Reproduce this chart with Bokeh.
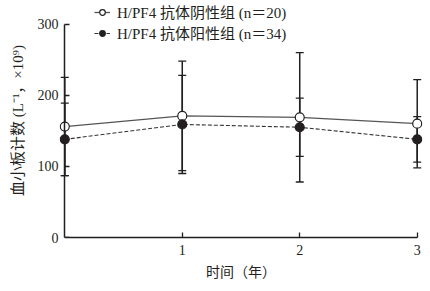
from bokeh.plotting import figure
from bokeh.models import (Range1d, Whisker, ColumnDataSource, Legend, LegendItem,
                          FixedTicker, TeeHead, LinearAxis)
from bokeh.embed import file_html
from bokeh.resources import INLINE

# ---- data ----
years = [0, 1, 2, 3]
neg_mean = [156, 171, 169, 160]
neg_sd = [69, 77, 91, 62]
pos_mean = [138, 159, 155, 138]
pos_sd = [51, 69, 41, 32]
x_ticks = [1, 2, 3]
y_ticks = [0, 100, 200, 300]
neg_label = "H/PF4 抗体阴性组 (n＝20)"
pos_label = "H/PF4 抗体阳性组 (n＝34)"
x_title = "时间（年）"
y_title = "血小板计数 (L⁻¹，×10⁹)"

INK = "#231f20"
SERIF = "Liberation Serif, Noto Sans CJK SC"

p = figure(width=430, height=291, output_backend="svg", toolbar_location=None,
           x_range=Range1d(-0.045, 3.045), y_range=Range1d(0, 329),
           min_border_left=59, min_border_right=8, min_border_top=3, min_border_bottom=54)
p.outline_line_color = None
p.grid.visible = False


def style(ax):
    ax.axis_line_color = INK
    ax.axis_line_width = 1.5
    ax.major_tick_line_color = INK
    ax.major_tick_line_width = 1.3
    ax.major_tick_in = 5
    ax.major_tick_out = 0
    ax.minor_tick_line_color = None
    ax.major_label_text_font = SERIF
    ax.major_label_text_font_size = "14px"
    ax.major_label_text_color = INK
    ax.axis_label_text_font = SERIF
    ax.axis_label_text_font_size = "14px"
    ax.axis_label_text_font_style = "normal"
    ax.axis_label_text_color = INK


# x axis
xa = p.xaxis[0]
style(xa)
xa.bounds = (0, 3)
xa.ticker = FixedTicker(ticks=x_ticks)
xa.major_label_standoff = 7
xa.axis_label = x_title
xa.axis_label_standoff = 7

# y axis labels (tick labels + title) at the frame's left edge
ya = p.yaxis[0]
style(ya)
ya.ticker = FixedTicker(ticks=y_ticks)
ya.axis_line_color = None
ya.major_tick_line_color = None
ya.major_label_standoff = 1
ya.axis_label = y_title
ya.axis_label_text_font_size = "15px"
ya.axis_label_standoff = 9

# y axis line and tick marks drawn at x = 0 (tick marks as minor ticks, no labels)
y_line = LinearAxis(fixed_location=0, bounds=(0, 300),
                    ticker=FixedTicker(ticks=[], minor_ticks=y_ticks))
style(y_line)
y_line.minor_tick_line_color = INK
y_line.minor_tick_line_width = 1.3
y_line.minor_tick_in = 5
y_line.minor_tick_out = 0
y_line.major_label_standoff = 0
p.add_layout(y_line, "left")

# error bars
neg_src = ColumnDataSource(dict(x=years, upper=[m + s for m, s in zip(neg_mean, neg_sd)],
                                lower=[m - s for m, s in zip(neg_mean, neg_sd)]))
pos_src = ColumnDataSource(dict(x=years, upper=[m + s for m, s in zip(pos_mean, pos_sd)],
                                lower=[m - s for m, s in zip(pos_mean, pos_sd)]))
for src in (neg_src, pos_src):
    p.add_layout(Whisker(source=src, base="x", upper="upper", lower="lower",
                         line_color=INK, line_width=1.5,
                         upper_head=TeeHead(size=8, line_color=INK, line_width=1.3),
                         lower_head=TeeHead(size=8, line_color=INK, line_width=1.3)))

# lines and markers
neg_line = p.line(years, neg_mean, line_color="#555555", line_width=1.3)
pos_line = p.line(years, pos_mean, line_color="#333333", line_width=1.1, line_dash="4 2")
neg_pts = p.scatter(years, neg_mean, size=9, fill_color="white", line_color=INK, line_width=1.2)
pos_pts = p.scatter(years, pos_mean, size=9, fill_color=INK, line_color=INK, line_width=1.2)

legend = Legend(items=[LegendItem(label=neg_label, renderers=[neg_line, neg_pts]),
                       LegendItem(label=pos_label, renderers=[pos_line, pos_pts])],
                location=(35, 194), border_line_color=None, background_fill_alpha=0,
                padding=0, margin=0, spacing=-2, glyph_width=16, glyph_height=14,
                label_height=14, label_standoff=7, label_text_font=SERIF,
                label_text_font_size="15px", label_text_color=INK)
p.add_layout(legend)

open("out.html", "w").write(file_html(p, INLINE))
